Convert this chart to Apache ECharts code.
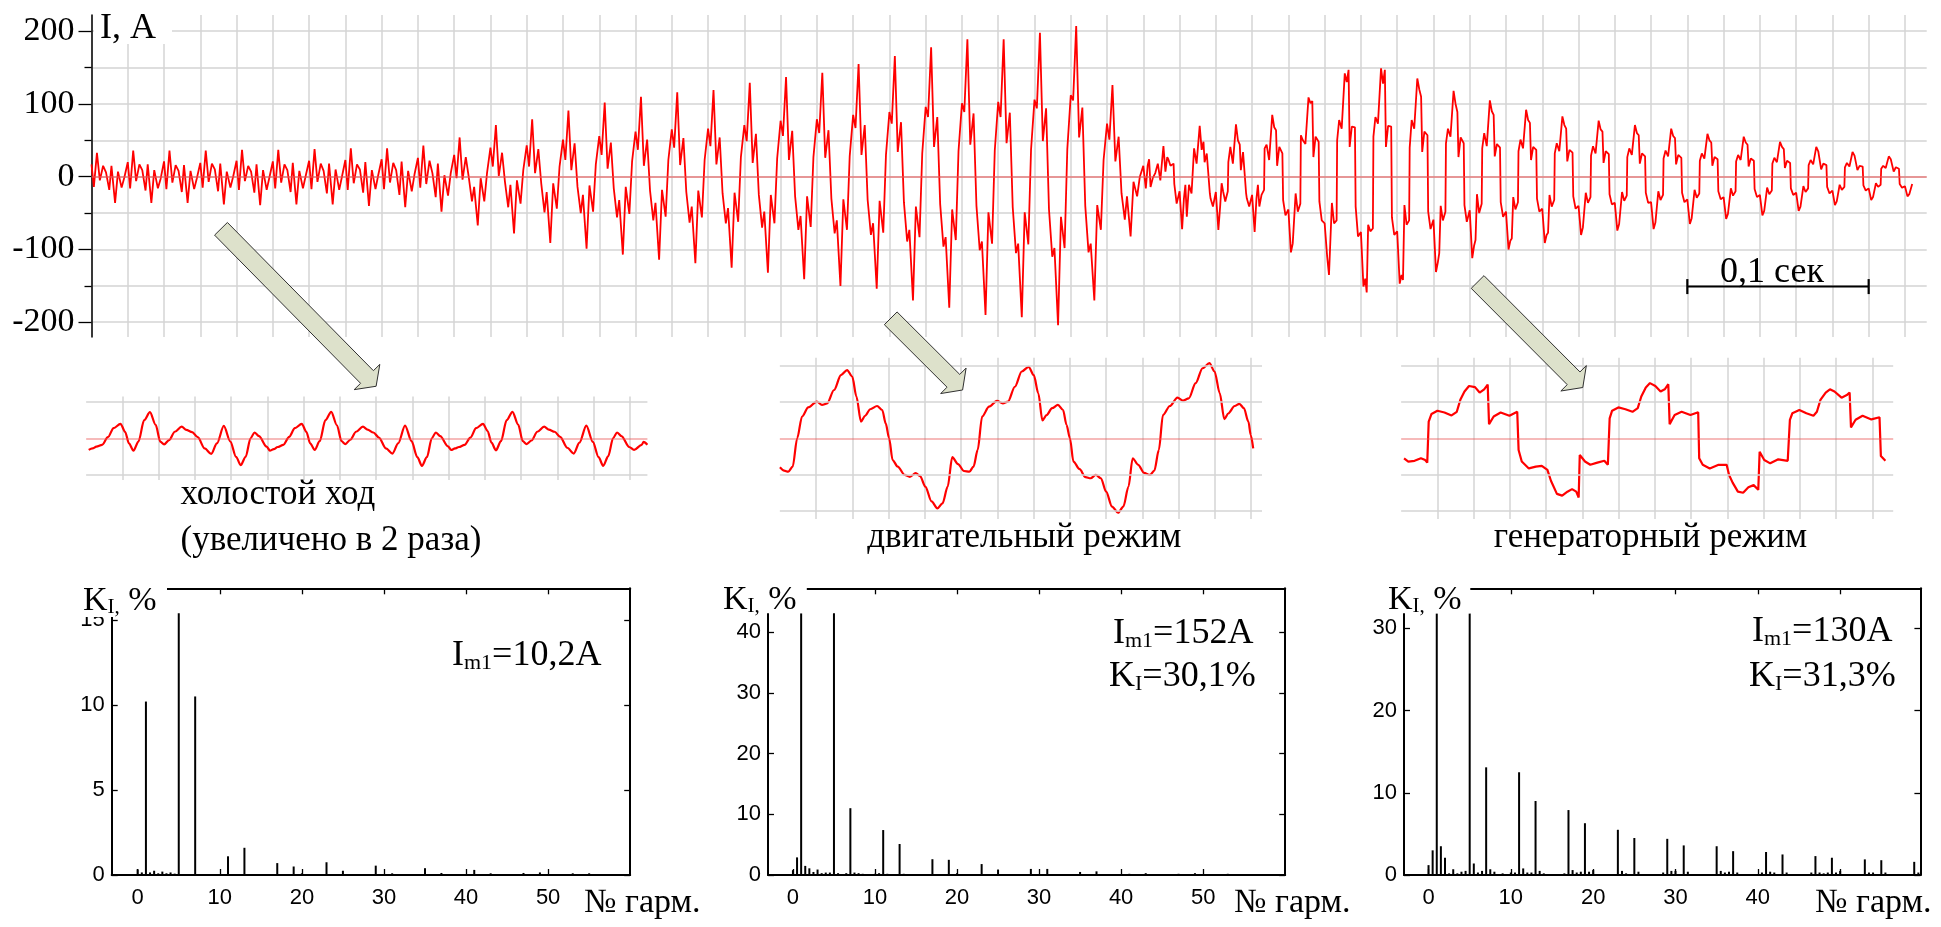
<!DOCTYPE html>
<html><head><meta charset="utf-8">
<script src="https://cdn.jsdelivr.net/npm/echarts@6.0.0/dist/echarts.min.js"></script>
<style>html,body{margin:0;padding:0;background:#fff;}#c{width:1941px;height:927px;}</style>
</head><body><div id="c"></div>
<script>
// ---------------- DATA ----------------
const PERIOD = 0.02; // s, one 50 Hz cycle = one vertical grid cell
// vertex phases (fraction of a period) used for idle / motor cycles
const MOTOR_PHASES = [0, 0.065, 0.15, 0.23, 0.32, 0.40, 0.49, 0.55, 0.65, 0.73, 0.83, 0.905];
// vertex phases used for generator cycles
const GEN_PHASES = [0.00, 0.07, 0.12, 0.16, 0.20, 0.26, 0.33, 0.345, 0.40, 0.47, 0.555, 0.61, 0.66, 0.69, 0.75, 0.835, 0.855, 0.92];

// cycles 0..9 : no-load current, A
const idleCycles = [
  [17, -14, 33, -5, 15, 6, -18, 15, -36, 7, -15, -1],
  [20, -16, 36, -6, 17, 9, -19, 17, -36, 9, -16, -3],
  [21, -17, 36, -8, 16, 8, -21, 16, -36, 8, -17, -2],
  [19, -15, 36, -7, 18, 10, -20, 18, -38, 7, -15, 0],
  [22, -18, 37, -6, 15, 7, -22, 17, -39, 9, -18, -1],
  [21, -16, 37, -8, 17, 9, -21, 19, -38, 8, -16, 1],
  [22, -17, 38, -7, 18, 8, -23, 18, -38, 10, -18, 0],
  [23, -18, 39, -9, 17, 10, -22, 20, -40, 9, -17, 2],
  [24, -17, 39, -8, 19, 9, -25, 21, -42, 8, -20, 3],
  [26, -15, 43, -10, 22, 5, -28, 18, -48, 2, -26, 5]
];
// cycles 10..28 : motor mode, A
const motorCycles = [
  [30, -2, 54, -4, 27, 0, -34, -14, -67, -2, -34, 5],
  [40, 14, 71, 1, 33, -7, -42, -11, -78, -5, -37, 9],
  [43, 14, 79, 5, 38, -9, -49, -21, -91, -9, -44, 14],
  [51, 23, 91, 9, 46, -14, -50, -25, -99, -12, -48, 17],
  [56, 30, 102, 11, 47, -16, -56, -32, -107, -14, -51, 21],
  [62, 37, 110, 15, 51, -19, -60, -36, -114, -18, -55, 23],
  [65, 40, 116, 16, 53, -21, -63, -41, -119, -19, -56, 23],
  [66, 42, 119, 17, 54, -23, -64, -43, -125, -22, -62, 27],
  [71, 49, 129, 19, 59, -25, -70, -48, -132, -25, -64, 25],
  [77, 56, 137, 23, 63, -27, -73, -54, -141, -27, -69, 27],
  [79, 60, 143, 26, 64, -30, -78, -60, -150, -31, -73, 28],
  [85, 67, 155, 30, 71, -32, -80, -64, -154, -33, -77, 30],
  [89, 73, 166, 34, 75, -35, -89, -73, -170, -41, -83, 32],
  [96, 82, 178, 41, 82, -38, -96, -83, -180, -45, -87, 35],
  [101, 89, 189, 44, 87, -40, -101, -89, -190, -49, -92, 36],
  [103, 82, 189, 46, 88, -42, -105, -92, -193, -49, -93, 37],
  [106, 94, 198, 49, 94, -45, -110, -98, -204, -55, -98, 38],
  [112, 105, 207, 54, 95, -40, -104, -92, -170, -39, -73, 23],
  [73, 51, 126, 21, 55, -23, -59, -27, -82, -7, -27, 0]
];
// cycles 29..49 : generator mode, A
const genCycles = [
  [15, -16, 15, 24, -14, -2, 5, 8, 18, -5, 42, 7, 27, 24, 15, 18, -10, -37],
  [-20, -72, -30, -11, -55, -11, -23, -10, 39, 18, 70, 37, 48, 20, 32, -23, -30, -41],
  [-21, -73, -40, -9, -20, -34, -20, 20, 41, 18, 72, 50, 44, 9, 34, -23, -30, -41],
  [-25, -76, -30, -11, -41, -25, -18, 39, 44, 23, 85, 68, 64, 15, 41, 32, -32, -53],
  [-45, -104, -92, -90, -23, -48, -37, 57, 50, 45, 109, 101, 104, 27, 55, 48, -34, -60],
  [-64, -110, -135, -137, -36, -64, -60, 50, 78, 66, 142, 130, 147, 41, 69, 68, -41, -82],
  [-76, -151, -140, -159, -66, -75, -71, 55, 82, 73, 149, 128, 147, 41, 70, 69, -56, -80],
  [-75, -147, -135, -142, -39, -66, -60, 40, 78, 66, 135, 120, 110, 34, 62, 57, -48, -72],
  [-59, -131, -118, -105, -40, -60, -48, 46, 66, 55, 118, 100, 89, 27, 54, 46, -39, -62],
  [-46, -112, -95, -87, -24, -50, -37, 39, 60, 42, 105, 90, 85, 28, 45, 40, -35, -55],
  [-48, -100, -88, -85, -28, -45, -35, 35, 51, 39, 92, 78, 74, 23, 41, 37, -30, -48],
  [-44, -91, -80, -77, -25, -41, -32, 32, 46, 35, 83, 71, 66, 21, 37, 33, -27, -44],
  [-40, -80, -70, -68, -22, -36, -28, 29, 42, 32, 77, 65, 62, 19, 35, 31, -24, -38],
  [-36, -74, -65, -63, -21, -33, -26, 27, 39, 30, 71, 60, 57, 18, 32, 28, -22, -36],
  [-35, -72, -63, -61, -20, -32, -25, 25, 36, 28, 66, 56, 53, 17, 30, 26, -22, -35],
  [-31, -65, -57, -55, -18, -29, -23, 22, 32, 25, 59, 50, 47, 15, 27, 24, -20, -31],
  [-28, -58, -51, -49, -16, -26, -20, 21, 30, 23, 55, 47, 44, 14, 25, 22, -17, -28],
  [-25, -53, -47, -45, -15, -24, -19, 18, 26, 20, 48, 41, 38, 12, 22, 19, -16, -25],
  [-22, -47, -41, -40, -13, -21, -16, 16, 23, 17, 41, 35, 33, 10, 18, 16, -14, -23],
  [-19, -39, -34, -33, -11, -18, -14, 13, 19, 14, 34, 29, 27, 9, 15, 14, -12, -19],
  [-16, -32, -28, -27, -9, -14, -11, 11, 15, 12, 28, 24, 22, 7, 13, 11, -10, -15]
];
const lastCycle = [-13, -27, -24, -23, -10]; // cycle 50 (partial)

// scale bar: 0,1 s
const SCALE_BAR = { start: 0.88, length: 0.1, level: -151 };

// inset waveforms (time in ms, current in A)
const insetIdleT = [-3.72,-3.30,-2.87,-2.24,-1.60,-0.97,-0.21,0.30,0.72,1.22,1.77,2.40,3.04,3.67,4.18,4.60,5.15,5.78,6.54,7.05,7.69,8.31,9.08,9.80,10.43,11.19,11.91,12.54,13.05,13.60,14.14,14.57,15.07,15.92];
const insetIdleCycles = [
  [-16,-14,-11.5,-9,1.5,14,20,9,-7,-17,-4.5,25,36,18.5,-4.5,-8.5,-2.5,9,16,11.5,8.5,1.5,-14,-21.5,-7,17,-4.5,-25.5,-37,-25.5,0,8,3,-11.5],
  [-17,-15,-12,-9,2,14,20,9,-7,-16,-4,25,36.5,18,-4,-8,-2,9,16,12,8,1,-14,-21,-7,17.5,-4,-26,-38,-26,0,8,3,-11],
  [-16,-14,-12,-9,1,14,20,10,-6,-16.5,-4,25,36.5,19,-4,-8,-3,9,16,12,9,2,-13,-21,-6,17.5,-5,-26,-38,-25,0,8,3,-12]
];
const insetIdleTail = [[56.46,-16],[57.3,-9],[57.51,-5],[57.93,-9]];

const insetMotor = [[-3.99,-80],[-3.53,-89],[-3.07,-92],[-2.58,-78],[-2.09,0],[-1.55,60],[-0.87,85],[0.08,101],[0.65,92],[1.22,96],[1.98,133],[2.74,174],[3.42,188],[3.99,170],[4.45,115],[4.95,46],[5.40,62],[5.97,80],[6.73,89],[7.30,78],[7.68,41],[8.06,0],[8.44,-60],[9.01,-78],[9.77,-101],[10.34,-106],[10.99,-96],[11.48,-104],[12.05,-133],[12.74,-174],[13.38,-193],[13.95,-179],[14.52,-133],[15.02,-52],[15.66,-71],[16.31,-90],[16.92,-92],[17.37,-78],[17.83,-32],[18.32,60],[19.08,87],[19.96,103],[20.60,96],[21.17,101],[21.93,142],[22.69,184],[23.45,197],[24.02,174],[24.52,124],[24.97,49],[25.43,64],[26.04,83],[26.68,92],[27.25,78],[27.63,37],[28.01,0],[28.39,-64],[29.08,-85],[29.72,-107],[30.29,-110],[30.86,-101],[31.43,-110],[32.00,-147],[32.65,-188],[33.33,-205],[33.90,-188],[34.47,-133],[34.93,-55],[35.54,-73],[36.18,-95],[36.83,-101],[37.32,-89],[37.82,-32],[38.27,64],[39.03,89],[39.87,112],[40.48,104],[41.12,110],[41.88,152],[42.64,193],[43.40,207],[43.97,184],[44.54,124],[45.04,53],[45.49,69],[46.18,89],[46.71,95],[47.20,83],[47.70,46],[47.96,9],[48.23,-28]];

const insetGen = [[-3.68,-55],[-3.21,-64],[-2.52,-62],[-1.82,-55],[-1.35,-60],[-1.12,-67],[-0.96,46],[-0.65,67],[0.00,76],[0.78,71],[1.56,63],[2.14,73],[2.53,106],[2.99,129],[3.49,144],[4.15,141],[4.66,126],[5.16,135],[5.55,148],[5.70,39],[6.21,60],[6.98,71],[7.95,62],[8.81,73],[8.96,-32],[9.31,-64],[10.09,-83],[10.86,-78],[11.52,-76],[12.14,-87],[12.53,-117],[13.19,-153],[13.77,-158],[14.35,-147],[14.86,-140],[15.32,-147],[15.59,-163],[15.71,-46],[16.29,-64],[16.87,-73],[17.65,-67],[18.42,-62],[18.81,-73],[19.01,55],[19.28,76],[19.97,85],[20.75,80],[21.53,73],[22.11,83],[22.50,115],[23.00,140],[23.46,152],[24.05,144],[24.63,129],[25.09,135],[25.48,149],[25.63,39],[26.18,64],[26.95,73],[27.92,64],[28.78,72],[28.89,-55],[29.28,-73],[30.06,-83],[31.03,-73],[31.92,-73],[32.19,-101],[32.58,-122],[33.16,-147],[33.74,-150],[34.32,-135],[34.90,-129],[35.41,-142],[35.56,-37],[36.07,-60],[36.73,-69],[37.62,-58],[38.66,-62],[38.90,51],[39.17,69],[39.94,78],[40.72,69],[41.50,62],[41.88,73],[42.27,106],[42.85,126],[43.32,135],[43.82,129],[44.60,112],[45.18,119],[45.49,126],[45.64,30],[46.15,51],[46.92,62],[47.89,52],[48.79,58],[48.94,-49],[49.44,-62]];

// harmonic spectra: [harmonic number, K_I %]
const specIdle = [[0,0.33],[0.5,0.15],[1,10.2],[1.5,0.15],[2,0.25],[2.5,0.1],[3,0.2],[3.5,0.1],[4,0.15],[4.5,0.08],[5,15.4],[7,10.5],[11,1.1],[13,1.6],[17,0.7],[19,0.5],[20,0.1],[23,0.75],[25,0.25],[29,0.55],[31,0.1],[35,0.4],[37,0.12],[41,0.3],[43,0.1],[47,0.12],[49,0.15],[53,0.1],[55,0.1]];
const specMotor = [[0,0.8],[0.5,2.9],[1,43.1],[1.5,1.5],[2,1.1],[2.5,0.5],[3,0.9],[3.5,0.3],[4,0.4],[4.5,0.4],[5,43.1],[5.5,0.3],[6,0.1],[6.5,0.3],[7,11.0],[7.5,0.4],[8,0.3],[8.5,0.2],[9,0.1],[10,0.2],[10.5,0.3],[11,7.4],[11.5,0.2],[13,5.1],[13.5,0.2],[17,2.6],[19,2.5],[20,0.3],[23,1.8],[25,0.9],[29,1.0],[31,1.0],[35,0.5],[37,0.6],[41,0.2],[43,0.3],[47,0.2],[49,0.3],[53,0.2],[55,0.1]];
const specGen = [[0,1.2],[0.5,3.0],[1,31.8],[1.5,3.5],[2,2.1],[2.5,0.2],[3,0.7],[3.5,0.2],[4,0.4],[4.5,0.5],[5,31.8],[5.5,1.4],[6,0.3],[6.5,0.5],[7,13.1],[7.5,0.7],[8,0.4],[9,0.2],[10,0.3],[10.5,0.3],[11,12.5],[11.5,0.8],[12,0.3],[12.5,0.3],[13,9.0],[13.5,0.5],[14,0.2],[16.5,0.2],[17,7.9],[17.5,0.6],[18,0.3],[18.5,0.4],[19,6.3],[19.5,0.4],[20,0.6],[23,5.5],[23.5,0.5],[24,0.2],[25,4.5],[25.5,0.4],[28.5,0.3],[29,4.4],[29.5,0.5],[30,0.5],[31,3.6],[31.5,0.4],[35,3.5],[35.5,0.5],[36,0.3],[36.5,0.4],[37,2.9],[37.5,0.3],[40.5,0.3],[41,2.8],[41.5,0.4],[42,0.3],[43,2.5],[43.5,0.3],[46.5,0.3],[47,2.3],[47.5,0.3],[48,0.2],[48.5,0.3],[49,2.1],[49.5,0.3],[50,0.5],[53,1.9],[53.5,0.3],[54,0.3],[55,1.8],[55.5,0.3],[59,1.6],[59.5,0.3]];

const mainYTicks = [-200, -100, 0, 100, 200];
const specXTicks = [0, 10, 20, 30, 40, 50];
const specGenXLabels = [0, 10, 20, 30, 40];
const specIdleYTicks = [0, 5, 10, 15];
const specMotorYTicks = [0, 10, 20, 30, 40];
const specGenYTicks = [0, 10, 20, 30];

// ---------------- BUILD ----------------
const wave = [];
function addCycles(rows, firstCycle, phases) {
  rows.forEach((row, k) => row.forEach((v, i) => wave.push([(firstCycle + k + phases[i]) * PERIOD, v])));
}
addCycles(idleCycles, 0, MOTOR_PHASES);
addCycles(motorCycles, 10, MOTOR_PHASES);
addCycles(genCycles, 29, GEN_PHASES);
addCycles([lastCycle], 50, GEN_PHASES);

const insetIdle = [];
insetIdleCycles.forEach((row, k) => row.forEach((v, i) => insetIdle.push([insetIdleT[i] + 20 * k, v])));
insetIdleTail.forEach(p => insetIdle.push(p));

const SERIF = '"Liberation Serif", "Times New Roman", serif';
const SANS = '"Liberation Sans", Arial, sans-serif';
const GRID_C = '#d4d4d4';
const ZERO_C = 'rgba(235,90,90,0.55)';

const GRIDS = [
  { left: 91.5, top: 15, width: 1835.2, height: 322 },
  { left: 91.5, top: 31.2, width: 1835.2, height: 291 },
  { left: 86.15, top: 396.6, width: 561.25, height: 83.4 },
  { left: 779.85, top: 357.7, width: 482.15, height: 161.2 },
  { left: 1401.15, top: 357.7, width: 492.05, height: 161.2 },
  { left: 111.7, top: 588.3, width: 518.5, height: 286.7 },
  { left: 768, top: 588.3, width: 517.2, height: 286.7 },
  { left: 1404, top: 588.3, width: 516.4, height: 286.7 }
];

function hLines(vals, zero) {
  const d = vals.map(v => ({ yAxis: v, lineStyle: { color: GRID_C, width: 1.5, type: 'solid' } }));
  d.push({ yAxis: 0, lineStyle: { color: zero, width: 1.6, type: 'solid' } });
  return { silent: true, symbol: ['none', 'none'], label: { show: false }, animation: false, data: d };
}

function mkLine() { return { show: true, onZero: false, lineStyle: { color: '#000', width: 2 } }; }
function mkTick(vals) { return { show: true, inside: true, length: 6, customValues: vals, lineStyle: { color: '#000', width: 1.3 } }; }
function specAxes(min, max, yMax, yTicks, xLabels, gi) {
  return {
    x: [
      { type: 'value', gridIndex: gi, min: min, max: max, position: 'bottom', axisLine: mkLine(),
        axisTick: mkTick(specXTicks),
        axisLabel: { show: true, customValues: xLabels, margin: 12, fontSize: 22, fontFamily: SANS, color: '#000' },
        splitLine: { show: false } },
      { type: 'value', gridIndex: gi, min: min, max: max, position: 'top', axisLine: mkLine(),
        axisTick: mkTick(specXTicks), axisLabel: { show: false }, splitLine: { show: false } }
    ],
    y: [
      { type: 'value', gridIndex: gi, min: 0, max: yMax, position: 'left', axisLine: mkLine(),
        axisTick: mkTick(yTicks),
        axisLabel: { show: true, customValues: yTicks, margin: 7, fontSize: 22, fontFamily: SANS, color: '#000' },
        splitLine: { show: false } },
      { type: 'value', gridIndex: gi, min: 0, max: yMax, position: 'right', axisLine: mkLine(),
        axisTick: mkTick(yTicks), axisLabel: { show: false }, splitLine: { show: false } }
    ]
  };
}
const s1 = specAxes(-3.17, 60, 16.86, specIdleYTicks, specXTicks, 5);
const s2 = specAxes(-3.04, 60, 47.2, specMotorYTicks, specXTicks, 6);
const s3 = specAxes(-2.98, 59.75, 34.88, specGenYTicks, specGenXLabels, 7);

function insetX(gi, max) {
  return { type: 'value', gridIndex: gi, min: -4, max: max, interval: 4,
    axisLine: { show: false }, axisTick: { show: false }, axisLabel: { show: false },
    splitLine: { show: true, showMinLine: false, showMaxLine: false, lineStyle: { color: GRID_C, width: 1.5 } } };
}
function hiddenY(gi, min, max) {
  return { type: 'value', gridIndex: gi, min: min, max: max, show: false, splitLine: { show: false } };
}

function arrow(sx, sy, bx, by) {
  const dx = bx - sx, dy = by - sy, L = Math.hypot(dx, dy), ux = dx / L, uy = dy / L, nx = -uy, ny = ux;
  const w = 9, hw = 18, hl = 13;
  return {
    type: 'polygon', z: 60,
    shape: { points: [[sx + nx * w, sy + ny * w], [bx + nx * w, by + ny * w], [bx + nx * hw, by + ny * hw],
      [bx + ux * hl, by + uy * hl], [bx - nx * hw, by - ny * hw], [bx - nx * w, by - ny * w], [sx - nx * w, sy - ny * w]] },
    style: { fill: '#dde1cb', stroke: '#303030', lineWidth: 1 }
  };
}
function txt(x, y, text, size, align) {
  return { type: 'text', x: x, y: y, z: 80,
    style: { text: text, fontSize: size, fontFamily: SERIF, fill: '#000', align: align || 'left', textAlign: align || 'left',
      verticalAlign: 'middle', textVerticalAlign: 'middle' } };
}
function richTxt(x, top, text, size) {
  return { type: 'text', x: x, y: top, z: 80,
    style: { text: text, fill: '#000', align: 'left', textAlign: 'left', verticalAlign: 'top', textVerticalAlign: 'top',
      fontSize: size, fontFamily: SERIF,
      rich: {
        a: { fontSize: size, fontFamily: SERIF, lineHeight: size, color: '#000' },
        b: { fontSize: Math.round(size * 0.62), fontFamily: SERIF, lineHeight: Math.round(size * 0.4), verticalAlign: 'bottom', color: '#000' }
      } } };
}
function whiteRect(x, y, w, h) {
  return { type: 'rect', z: 70, shape: { x: x, y: y, width: w, height: h }, style: { fill: '#fff' } };
}

const option = {
  animation: false,
  backgroundColor: '#fff',
  grid: GRIDS,
  xAxis: [
    { type: 'value', gridIndex: 0, min: 0, max: 1.012, interval: 0.02,
      axisLine: { show: false }, axisTick: { show: false }, axisLabel: { show: false },
      splitLine: { show: true, showMaxLine: false, lineStyle: { color: GRID_C, width: 1.5 } } },
    { type: 'value', gridIndex: 1, min: 0, max: 1.012, show: false, splitLine: { show: false } },
    insetX(2, 57.93), insetX(3, 49.2), insetX(4, 50.3),
    s1.x[0], s1.x[1], s2.x[0], s2.x[1], s3.x[0], s3.x[1]
  ],
  yAxis: [
    { type: 'value', gridIndex: 0, min: -220.3, max: 222.3,
      axisLine: { show: true, onZero: false, lineStyle: { color: '#000', width: 1.5 } },
      axisTick: { show: false }, axisLabel: { show: false }, splitLine: { show: false } },
    { type: 'value', gridIndex: 1, min: -200, max: 200, interval: 100,
      axisLine: { show: false, onZero: false },
      axisTick: { show: true, length: 13, lineStyle: { color: '#000', width: 1.3 } },
      minorTick: { show: true, splitNumber: 2, length: 7, lineStyle: { color: '#000', width: 1.3 } },
      splitLine: { show: true, lineStyle: { color: GRID_C, width: 1.5 } },
      minorSplitLine: { show: true, lineStyle: { color: GRID_C, width: 1.5 } },
      axisLabel: { show: true, customValues: mainYTicks, margin: 17, fontSize: 34, fontFamily: SERIF, color: '#000' } },
    hiddenY(2, -57.5, 57.5), hiddenY(3, -222, 222), hiddenY(4, -222, 222),
    s1.y[0], s1.y[1], s2.y[0], s2.y[1], s3.y[0], s3.y[1]
  ],
  series: [
    { type: 'line', name: 'I', xAxisIndex: 0, yAxisIndex: 0, data: wave, showSymbol: false, z: 3,
      lineStyle: { color: '#ff0000', width: 1.8 },
      markLine: { silent: true, symbol: ['none', 'none'], label: { show: false },
        data: [{ yAxis: 0 }], lineStyle: { color: ZERO_C, width: 1.8, type: 'solid' } } },
    { type: 'line', name: 'scale', xAxisIndex: 0, yAxisIndex: 0,
      data: [[SCALE_BAR.start, SCALE_BAR.level], [SCALE_BAR.start + SCALE_BAR.length, SCALE_BAR.level]],
      symbol: 'rect', symbolSize: [2.2, 15], showSymbol: true, itemStyle: { color: '#000' },
      lineStyle: { color: '#000', width: 2 }, z: 4 },
    { type: 'line', xAxisIndex: 2, yAxisIndex: 2, data: insetIdle, showSymbol: false, smooth: 0.3, smoothMonotone: 'x',
      lineStyle: { color: '#ff0000', width: 2.2 }, markLine: hLines([-50, 50], ZERO_C) },
    { type: 'line', xAxisIndex: 3, yAxisIndex: 3, data: insetMotor, showSymbol: false, smooth: 0.3, smoothMonotone: 'x',
      lineStyle: { color: '#ff0000', width: 2.2 }, markLine: hLines([-200, -100, 100, 200], ZERO_C) },
    { type: 'line', xAxisIndex: 4, yAxisIndex: 4, data: insetGen, showSymbol: false,
      lineStyle: { color: '#ff0000', width: 2.2 }, markLine: hLines([-200, -100, 100, 200], ZERO_C) },
    { type: 'bar', xAxisIndex: 5, yAxisIndex: 5, data: specIdle, barWidth: 2, itemStyle: { color: '#000' } },
    { type: 'bar', xAxisIndex: 7, yAxisIndex: 7, data: specMotor, barWidth: 2, itemStyle: { color: '#000' } },
    { type: 'bar', xAxisIndex: 9, yAxisIndex: 9, data: specGen, barWidth: 2, itemStyle: { color: '#000' } }
  ],
  graphic: { elements: [
    whiteRect(94, 12, 78, 32),
    txt(100, 29, 'I, A', 36),
    txt(1772, 273, '0,1 сек', 36, 'center'),
    arrow(221, 228.8, 367, 377),
    arrow(890.7, 318.3, 953.4, 380.8),
    arrow(1477.6, 282, 1573.6, 378.3),
    txt(180.5, 495, 'холостой ход', 35),
    txt(180.5, 541, '(увеличено в 2 раза)', 35),
    txt(1024.3, 538, 'двигательный режим', 35, 'center'),
    txt(1650.5, 538, 'генераторный режим', 35, 'center'),
    whiteRect(76, 574, 91, 43),
    whiteRect(716, 574, 90.8, 39.3),
    whiteRect(1381, 574, 89.3, 39.3),
    richTxt(83, 584, '{a|K}{b|I,} {a|%}', 34),
    richTxt(723, 583, '{a|K}{b|I,} {a|%}', 34),
    richTxt(1388, 583, '{a|K}{b|I,} {a|%}', 34),
    richTxt(452, 638, '{a|I}{b|m1}{a|=10,2A}', 36),
    richTxt(1113, 616, '{a|I}{b|m1}{a|=152A}', 36),
    richTxt(1109, 659, '{a|K}{b|I}{a|=30,1%}', 36),
    richTxt(1752, 614, '{a|I}{b|m1}{a|=130A}', 36),
    richTxt(1749, 659, '{a|K}{b|I}{a|=31,3%}', 36),
    richTxt(584, 886, '{a|№ гарм.}', 34),
    richTxt(1234, 886, '{a|№ гарм.}', 34),
    richTxt(1815, 886, '{a|№ гарм.}', 34)
  ] }
};

const chart = echarts.init(document.getElementById('c'), null, { renderer: 'canvas', width: 1941, height: 927 });
chart.setOption(option);
</script>
</body></html>
